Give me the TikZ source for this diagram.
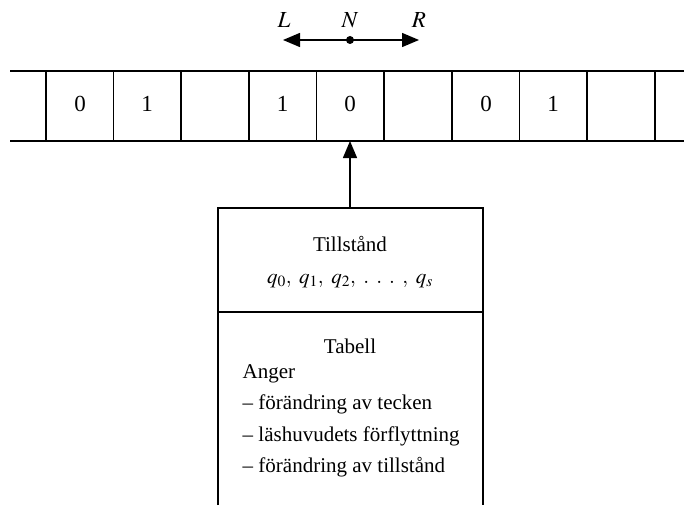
\documentclass[tikz,border=0pt]{standalone}
\usepackage{mathptmx}
\usepackage[no-math]{fontspec}
\setmainfont{Liberation Serif}
\usetikzlibrary{arrows.meta}
\begin{document}
\begin{tikzpicture}[x=1pt,y=-1pt, line width=1.4pt,
  font=\fontsize{21}{25}\selectfont,
  tipped/.style={-{Triangle[length=17pt,width=14pt]}},
  lbl/.style={inner sep=0pt, text height=14pt, text depth=4pt},
  big/.style={lbl, font=\fontsize{23}{27}\selectfont},
  item/.style={lbl, anchor=west}]
\useasboundingbox (0,0) rectangle (684,505);
% tape
\draw (10,71) -- (684,71);
\draw (10,141) -- (684,141);
\foreach \x in {46,113.5,181,249,316.5,384,452,519.5,587,655}
  \draw (\x,71) -- (\x,141);
\node[big] (c1) at (80,107) {0};
\node[big] (c2) at (147,107) {1};
\node[big] (c4) at (282.5,107) {1};
\node[big] (c5) at (350,107) {0};
\node[big] (c7) at (486,107) {0};
\node[big] (c8) at (553,107) {1};
% head movement
\node[big] (L) at (284,23) {$L$};
\node[big] (N) at (350,23) {$N$};
\node[big] (R) at (419,23) {$R$};
\coordinate (dot) at (350,40);
\coordinate (lend) at (283,40);
\coordinate (rend) at (419,40);
\draw[tipped] (dot) -- (lend);
\draw[tipped] (dot) -- (rend);
\fill (dot) circle (4pt);
% control box
\draw (218,505) -- (218,208) -- (483,208) -- (483,505);
\draw (218,312) -- (483,312);
\coordinate (boxtop) at (350,208);
\coordinate (tapebot) at (350,141);
\draw[tipped] (boxtop) -- (tapebot);
\node[lbl] (state) at (350,246) {Tillstånd};
\node[lbl] (qs) at (350,278) {$q_0,\ q_1,\ q_2,\ \ldotp\;\ldotp\;\ldotp\ ,\ q_s$};
\node[lbl] (tab) at (350,348) {Tabell};
\node[item] (a0) at (242,373) {Anger};
\node[item] (a1) at (242,404) {– förändring av tecken};
\node[item] (a2) at (242,436) {– läshuvudets förflyttning};
\node[item] (a3) at (242,467) {– förändring av tillstånd};
\end{tikzpicture}
\end{document}
